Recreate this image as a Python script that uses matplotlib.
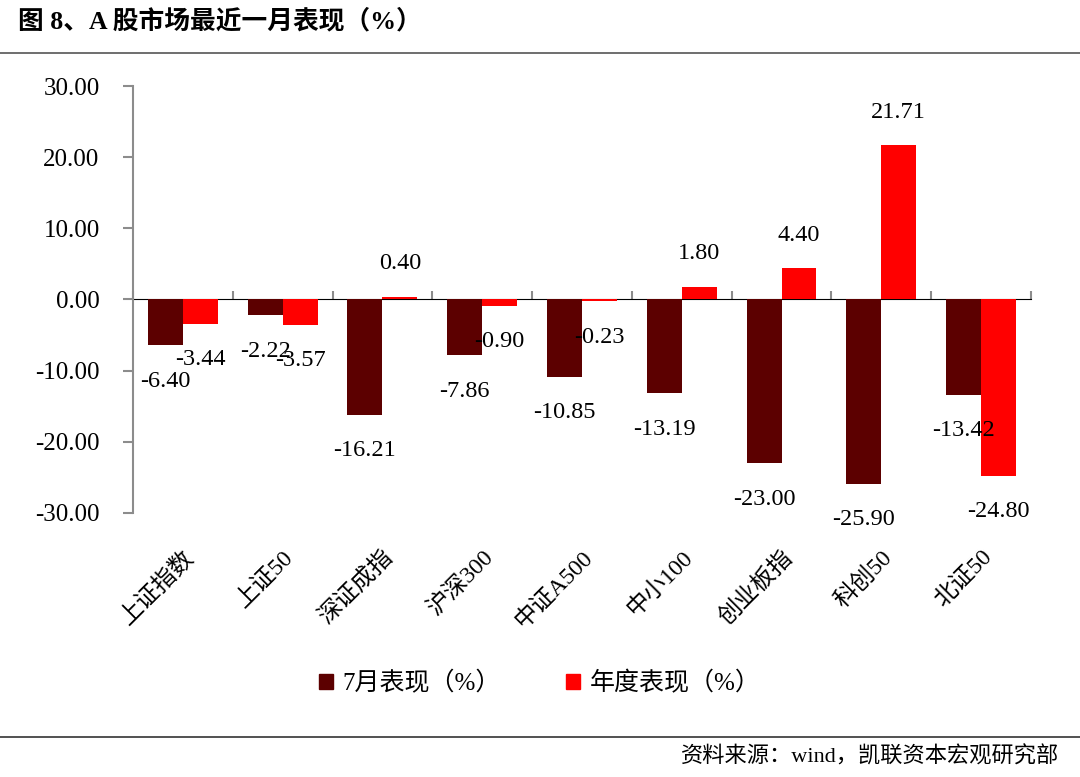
import numpy as np
import matplotlib
matplotlib.use("Agg")
import matplotlib.pyplot as plt
from matplotlib.patches import Patch

plt.rcParams['font.family'] = ['Liberation Serif', 'Noto Sans CJK SC']
plt.rcParams['axes.unicode_minus'] = False

# data
categories = ['上证指数', '上证50', '深证成指', '沪深300', '中证A500', '中小100', '创业板指', '科创50', '北证50']
july_perf = [-6.40, -2.22, -16.21, -7.86, -10.85, -13.19, -23.00, -25.90, -13.42]
year_perf = [-3.44, -3.57, 0.40, -0.90, -0.23, 1.80, 4.40, 21.71, -24.80]
series_names = ['7月表现（%）', '年度表现（%）']

c_dark = '#5c0000'
c_red = '#ff0000'
c_axis = '#8c8c8c'

fig = plt.figure(figsize=(10.8, 7.77), dpi=100)
ax = fig.add_axes([0.1231, 0.3398, 0.8315, 0.5495])

x = np.arange(len(categories))
w = 0.35
b1 = ax.bar(x - w/2, july_perf, w, color=c_dark, zorder=2)
b2 = ax.bar(x + w/2, year_perf, w, color=c_red, zorder=2)

# data labels beyond the bar end
for bars in (b1, b2):
    for r in bars:
        v = r.get_height()
        off = 33 if v >= 0 else -36
        ax.annotate('%.2f' % v, (r.get_x() + r.get_width()/2, v),
                    xytext=(0, off), textcoords='offset pixels',
                    ha='center', va='center', fontsize=17.5, color='black', zorder=3)

ax.set_xlim(-0.5, len(categories) - 0.5)
ax.set_ylim(-30, 30)
ax.set_yticks(np.arange(-30, 31, 10))
ax.set_yticklabels(['%.2f' % t for t in np.arange(-30, 31, 10)], fontsize=18)

for s in ('top', 'right', 'bottom'):
    ax.spines[s].set_visible(False)
ax.spines['left'].set_color(c_axis)
ax.spines['left'].set_linewidth(1.5)
ax.tick_params(axis='y', direction='out', length=7, width=1.5, color=c_axis, pad=17)

# category labels at the bottom, rotated
ax.set_xticks(x)
ax.set_xticklabels(categories, rotation=45, ha='right', va='top',
                   rotation_mode='anchor', fontsize=17)
ax.tick_params(axis='x', length=0, pad=24)

# zero line with category boundary ticks
zero_ax = ax.secondary_xaxis(0.5)
zero_ax.set_xticks(np.arange(-0.5, len(categories), 1.0))
zero_ax.set_xticklabels([])
zero_ax.spines['bottom'].set_color(c_axis)
zero_ax.spines['bottom'].set_linewidth(2)
zero_ax.tick_params(axis='x', direction='out', length=6, width=1.5, color=c_axis)

# legend
handles = [Patch(color=c_dark), Patch(color=c_red)]
fig.legend(handles, series_names, loc='center', bbox_to_anchor=(0.5, 0.121),
           ncol=2, frameon=False, fontsize=18, handlelength=0.55, handleheight=0.55,
           columnspacing=2.6, handletextpad=0.4)

# title and source with rules
fig.text(0.017, 0.973, '图 8、A 股市场最近一月表现（%）', fontsize=18.5,
         fontweight='bold', ha='left', va='center')
fig.add_artist(plt.Line2D([0, 1], [0.932, 0.932], color='#555555', lw=1.2))
fig.add_artist(plt.Line2D([0, 1], [0.052, 0.052], color='#333333', lw=1.2))
fig.text(0.981, 0.026, '资料来源：wind，凯联资本宏观研究部', fontsize=16,
         ha='right', va='center')

fig.savefig('out.png', dpi=100)
